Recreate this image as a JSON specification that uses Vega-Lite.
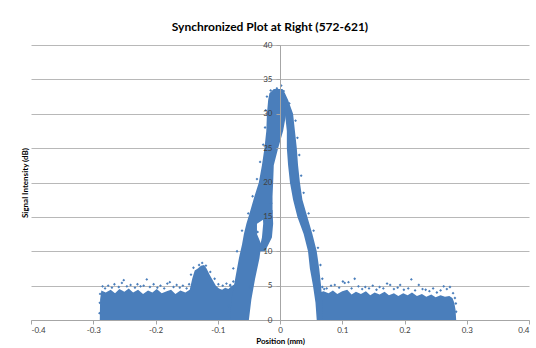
{
  "$schema": "https://vega.github.io/schema/vega-lite/v6.json",
  "autosize": "none",
  "width": 498,
  "height": 275,
  "padding": {"left": 31, "top": 45, "right": 7, "bottom": 28},
  "background": "white",
  "title": {"text": "Synchronized Plot at Right (572-621)", "font": "Lato", "fontSize": 12, "fontWeight": "bold", "color": "#000000", "anchor": "middle", "offset": 7, "dx": -10},
  "config": {
    "view": {"stroke": null},
    "axisX": {"grid": false, "domainColor": "#a6a6a6", "tickColor": "#a6a6a6", "tickSize": 4, "labelFont": "Lato", "labelFontSize": 8, "labelColor": "#404040", "labelPadding": 2, "titleFont": "Lato", "titleFontSize": 8, "titleFontWeight": "bold", "titleColor": "#000000", "titlePadding": 3},
    "axisY": {"gridColor": "#b8b8b8", "domainColor": "#a6a6a6", "tickColor": "#a6a6a6", "labelFont": "Lato", "labelFontSize": 8, "labelColor": "#404040", "titleFont": "Lato", "titleFontSize": 8, "titleFontWeight": "bold", "titleColor": "#000000"}
  },
  "resolve": {"axis": {"y": "independent"}},
  "datasets": {
    "noise": [
      {"grp": "L", "x": -0.2895, "y": 0},
      {"grp": "L", "x": -0.2890, "y": 3.0},
      {"grp": "L", "x": -0.2870, "y": 4.3},
      {"grp": "L", "x": -0.2800, "y": 4.0},
      {"grp": "L", "x": -0.2720, "y": 4.4},
      {"grp": "L", "x": -0.2650, "y": 3.9},
      {"grp": "L", "x": -0.2580, "y": 4.5},
      {"grp": "L", "x": -0.2500, "y": 4.1},
      {"grp": "L", "x": -0.2430, "y": 4.6},
      {"grp": "L", "x": -0.2360, "y": 4.0},
      {"grp": "L", "x": -0.2280, "y": 4.4},
      {"grp": "L", "x": -0.2200, "y": 3.8},
      {"grp": "L", "x": -0.2120, "y": 4.3},
      {"grp": "L", "x": -0.2050, "y": 4.0},
      {"grp": "L", "x": -0.1980, "y": 4.5},
      {"grp": "L", "x": -0.1900, "y": 3.9},
      {"grp": "L", "x": -0.1820, "y": 4.2},
      {"grp": "L", "x": -0.1750, "y": 4.4},
      {"grp": "L", "x": -0.1680, "y": 3.8},
      {"grp": "L", "x": -0.1600, "y": 4.3},
      {"grp": "L", "x": -0.1520, "y": 4.0},
      {"grp": "L", "x": -0.1450, "y": 4.4},
      {"grp": "L", "x": -0.1410, "y": 6.0},
      {"grp": "L", "x": -0.1370, "y": 7.2},
      {"grp": "L", "x": -0.1320, "y": 7.5},
      {"grp": "L", "x": -0.1270, "y": 7.9},
      {"grp": "L", "x": -0.1220, "y": 8.0},
      {"grp": "L", "x": -0.1180, "y": 7.5},
      {"grp": "L", "x": -0.1130, "y": 6.6},
      {"grp": "L", "x": -0.1080, "y": 5.8},
      {"grp": "L", "x": -0.1030, "y": 5.0},
      {"grp": "L", "x": -0.0980, "y": 4.6},
      {"grp": "L", "x": -0.0930, "y": 4.4},
      {"grp": "L", "x": -0.0880, "y": 4.7},
      {"grp": "L", "x": -0.0830, "y": 4.5},
      {"grp": "L", "x": -0.0780, "y": 4.9},
      {"grp": "L", "x": -0.0730, "y": 5.2},
      {"grp": "L", "x": -0.0650, "y": 4.0},
      {"grp": "L", "x": -0.0600, "y": 0},
      {"grp": "R", "x": 0.0600, "y": 0},
      {"grp": "R", "x": 0.0630, "y": 4.0},
      {"grp": "R", "x": 0.0700, "y": 4.2},
      {"grp": "R", "x": 0.0780, "y": 3.9},
      {"grp": "R", "x": 0.0850, "y": 4.3},
      {"grp": "R", "x": 0.0920, "y": 3.8},
      {"grp": "R", "x": 0.1000, "y": 4.2},
      {"grp": "R", "x": 0.1080, "y": 4.4},
      {"grp": "R", "x": 0.1150, "y": 3.7},
      {"grp": "R", "x": 0.1220, "y": 4.1},
      {"grp": "R", "x": 0.1300, "y": 3.8},
      {"grp": "R", "x": 0.1380, "y": 4.2},
      {"grp": "R", "x": 0.1450, "y": 3.6},
      {"grp": "R", "x": 0.1520, "y": 4.0},
      {"grp": "R", "x": 0.1600, "y": 3.7},
      {"grp": "R", "x": 0.1680, "y": 4.1},
      {"grp": "R", "x": 0.1750, "y": 3.6},
      {"grp": "R", "x": 0.1830, "y": 3.9},
      {"grp": "R", "x": 0.1900, "y": 3.5},
      {"grp": "R", "x": 0.1980, "y": 3.9},
      {"grp": "R", "x": 0.2050, "y": 3.6},
      {"grp": "R", "x": 0.2120, "y": 4.0},
      {"grp": "R", "x": 0.2200, "y": 3.5},
      {"grp": "R", "x": 0.2280, "y": 3.8},
      {"grp": "R", "x": 0.2350, "y": 3.4},
      {"grp": "R", "x": 0.2430, "y": 3.7},
      {"grp": "R", "x": 0.2500, "y": 3.3},
      {"grp": "R", "x": 0.2580, "y": 3.6},
      {"grp": "R", "x": 0.2650, "y": 3.4},
      {"grp": "R", "x": 0.2720, "y": 3.5},
      {"grp": "R", "x": 0.2770, "y": 3.2},
      {"grp": "R", "x": 0.2800, "y": 2.5},
      {"grp": "R", "x": 0.2820, "y": 1.5},
      {"grp": "R", "x": 0.2830, "y": 0}
    ],
    "bands": [
      {"band": "LM", "y": 0, "xl": -0.080, "xr": -0.050},
      {"band": "LM", "y": 3, "xl": -0.078, "xr": -0.046},
      {"band": "LM", "y": 6, "xl": -0.072, "xr": -0.040},
      {"band": "LM", "y": 9, "xl": -0.066, "xr": -0.033},
      {"band": "LM", "y": 11, "xl": -0.061, "xr": -0.030},
      {"band": "LM", "y": 12.5, "xl": -0.058, "xr": -0.037},
      {"band": "LM", "y": 14, "xl": -0.054, "xr": -0.037},
      {"band": "LM", "y": 15.5, "xl": -0.049, "xr": -0.012},
      {"band": "LM", "y": 18, "xl": -0.041, "xr": -0.012},
      {"band": "LM", "y": 20, "xl": -0.034, "xr": -0.011},
      {"band": "LM", "y": 22.5, "xl": -0.029, "xr": -0.010},
      {"band": "LM", "y": 25, "xl": -0.025, "xr": -0.003},
      {"band": "LM", "y": 27.5, "xl": -0.022, "xr": 0.005},
      {"band": "LM", "y": 30, "xl": -0.021, "xr": 0.010},
      {"band": "LM", "y": 32, "xl": -0.019, "xr": 0.013},
      {"band": "LM", "y": 33, "xl": -0.017, "xr": 0.008},
      {"band": "LM", "y": 33.6, "xl": -0.010, "xr": 0.004},
      {"band": "LI", "y": 10, "xl": -0.034, "xr": -0.024},
      {"band": "LI", "y": 12, "xl": -0.029, "xr": -0.013},
      {"band": "LI", "y": 14, "xl": -0.027, "xr": -0.011},
      {"band": "LI", "y": 16, "xl": -0.028, "xr": -0.012},
      {"band": "RB", "y": 0, "xl": 0.059, "xr": 0.069},
      {"band": "RB", "y": 2.5, "xl": 0.057, "xr": 0.068},
      {"band": "RB", "y": 5, "xl": 0.053, "xr": 0.066},
      {"band": "RB", "y": 7.5, "xl": 0.048, "xr": 0.063},
      {"band": "RB", "y": 10, "xl": 0.045, "xr": 0.059},
      {"band": "RB", "y": 12.5, "xl": 0.038, "xr": 0.052},
      {"band": "RB", "y": 15, "xl": 0.028, "xr": 0.044},
      {"band": "RB", "y": 17.5, "xl": 0.021, "xr": 0.036},
      {"band": "RB", "y": 20, "xl": 0.016, "xr": 0.032},
      {"band": "RB", "y": 22.5, "xl": 0.013, "xr": 0.029},
      {"band": "RB", "y": 25, "xl": 0.011, "xr": 0.027},
      {"band": "RB", "y": 27.5, "xl": 0.011, "xr": 0.024},
      {"band": "RB", "y": 30, "xl": 0.008, "xr": 0.021},
      {"band": "RB", "y": 32, "xl": 0.005, "xr": 0.013}
    ],
    "pts": [
      {"x": -0.285, "y": 4.9}, {"x": -0.281, "y": 4.6}, {"x": -0.276, "y": 5.0}, {"x": -0.270, "y": 4.7},
      {"x": -0.266, "y": 5.2}, {"x": -0.259, "y": 4.8}, {"x": -0.254, "y": 5.4}, {"x": -0.251, "y": 5.8},
      {"x": -0.246, "y": 4.9}, {"x": -0.240, "y": 5.1}, {"x": -0.233, "y": 4.7}, {"x": -0.229, "y": 5.2},
      {"x": -0.224, "y": 4.9}, {"x": -0.219, "y": 5.0}, {"x": -0.214, "y": 5.9}, {"x": -0.209, "y": 4.8},
      {"x": -0.203, "y": 5.2}, {"x": -0.197, "y": 4.7}, {"x": -0.192, "y": 5.0}, {"x": -0.186, "y": 4.6},
      {"x": -0.181, "y": 5.3}, {"x": -0.177, "y": 5.5}, {"x": -0.171, "y": 4.8}, {"x": -0.166, "y": 5.1},
      {"x": -0.161, "y": 4.7}, {"x": -0.156, "y": 5.0}, {"x": -0.150, "y": 4.6}, {"x": -0.146, "y": 5.2},
      {"x": -0.143, "y": 6.6}, {"x": -0.139, "y": 7.6}, {"x": -0.130, "y": 8.0}, {"x": -0.125, "y": 8.3},
      {"x": -0.119, "y": 7.9}, {"x": -0.112, "y": 7.0}, {"x": -0.105, "y": 6.0}, {"x": -0.099, "y": 5.2},
      {"x": -0.092, "y": 5.0}, {"x": -0.086, "y": 5.3}, {"x": -0.080, "y": 5.1}, {"x": -0.075, "y": 5.6},
      {"x": 0.068, "y": 4.8}, {"x": 0.075, "y": 4.6}, {"x": 0.082, "y": 5.0}, {"x": 0.088, "y": 5.1},
      {"x": 0.095, "y": 4.7}, {"x": 0.101, "y": 5.6}, {"x": 0.104, "y": 5.4}, {"x": 0.110, "y": 5.5},
      {"x": 0.115, "y": 4.6}, {"x": 0.120, "y": 6.0}, {"x": 0.126, "y": 4.9}, {"x": 0.132, "y": 4.5},
      {"x": 0.137, "y": 4.8}, {"x": 0.143, "y": 4.6}, {"x": 0.149, "y": 5.0}, {"x": 0.155, "y": 4.4},
      {"x": 0.160, "y": 4.8}, {"x": 0.166, "y": 4.6}, {"x": 0.172, "y": 5.3}, {"x": 0.177, "y": 5.1},
      {"x": 0.183, "y": 4.5}, {"x": 0.189, "y": 4.7}, {"x": 0.193, "y": 5.1}, {"x": 0.199, "y": 4.4},
      {"x": 0.206, "y": 4.6}, {"x": 0.211, "y": 5.9}, {"x": 0.217, "y": 4.3}, {"x": 0.223, "y": 5.1},
      {"x": 0.229, "y": 4.5}, {"x": 0.234, "y": 4.4}, {"x": 0.240, "y": 4.2}, {"x": 0.246, "y": 4.6},
      {"x": 0.252, "y": 4.0}, {"x": 0.258, "y": 4.3}, {"x": 0.263, "y": 4.9}, {"x": 0.268, "y": 4.5},
      {"x": 0.273, "y": 4.8}, {"x": 0.278, "y": 3.9}, {"x": 0.281, "y": 3.2},
      {"x": -0.290, "y": 1.0}, {"x": -0.2895, "y": 2.5}, {"x": -0.289, "y": 3.8},
      {"x": 0.283, "y": 1.2}, {"x": 0.2825, "y": 2.4},
      {"x": -0.082, "y": 2.0}, {"x": -0.080, "y": 5.0}, {"x": -0.075, "y": 7.5}, {"x": -0.069, "y": 10.0},
      {"x": -0.061, "y": 13.0}, {"x": -0.051, "y": 15.5}, {"x": -0.044, "y": 18.0}, {"x": -0.037, "y": 20.5},
      {"x": -0.032, "y": 23.0}, {"x": -0.027, "y": 25.5}, {"x": -0.024, "y": 28.0}, {"x": -0.023, "y": 30.5},
      {"x": -0.021, "y": 32.5}, {"x": -0.015, "y": 33.4}, {"x": -0.005, "y": 33.7}, {"x": 0.002, "y": 34.1},
      {"x": 0.006, "y": 33.3}, {"x": 0.015, "y": 31.5}, {"x": 0.025, "y": 29.0}, {"x": 0.028, "y": 26.5},
      {"x": 0.031, "y": 24.0}, {"x": 0.034, "y": 21.0}, {"x": 0.038, "y": 18.5}, {"x": 0.046, "y": 15.5},
      {"x": 0.054, "y": 13.0}, {"x": 0.061, "y": 10.5}, {"x": 0.065, "y": 8.0}, {"x": 0.068, "y": 6.0},
      {"x": 0.071, "y": 4.5}, {"x": -0.036, "y": 12.8}, {"x": 0.018, "y": 20.0}, {"x": -0.014, "y": 17.0},
      {"x": -0.030, "y": 11.0}, {"x": 0.050, "y": 9.0}, {"x": -0.048, "y": 4.8}
    ]
  },
  "layer": [
    {
      "data": {"name": "noise"},
      "mark": {"type": "area", "color": "#4a7ebb", "clip": true},
      "encoding": {
        "x": {"field": "x", "type": "quantitative", "scale": {"domain": [-0.4, 0.4], "nice": false, "zero": false},
              "axis": {"values": [-0.4, -0.3, -0.2, -0.1, 0, 0.1, 0.2, 0.3, 0.4], "labelExpr": "datum.value == 0 ? '0' : (datum.value < 0 ? '-' : '') + format(abs(datum.value), '.1f')"},
              "title": "Position (mm)"},
        "y": {"field": "y", "type": "quantitative", "scale": {"domain": [0, 40], "nice": false},
              "axis": {"orient": "left", "values": [0, 5, 10, 15, 20, 25, 30, 35, 40], "grid": true, "labels": false, "ticks": false, "domain": false, "zindex": 0, "titleX": -6, "titleY": 137.5, "titleAngle": -90, "titleAlign": "center", "titleBaseline": "middle"},
              "title": "Signal Intensity (dB)"},
        "y2": {"datum": 0},
        "detail": {"field": "grp", "type": "nominal"}
      }
    },
    {
      "data": {"name": "bands"},
      "mark": {"type": "area", "orient": "horizontal", "color": "#4a7ebb"},
      "encoding": {
        "y": {"field": "y", "type": "quantitative", "axis": null},
        "x": {"field": "xl", "type": "quantitative", "title": "Position (mm)",
              "axis": {"values": [-0.4, -0.3, -0.2, -0.1, 0, 0.1, 0.2, 0.3, 0.4], "labelExpr": "datum.value == 0 ? '0' : (datum.value < 0 ? '-' : '') + format(abs(datum.value), '.1f')"}},
        "x2": {"field": "xr"},
        "detail": {"field": "band", "type": "nominal"}
      }
    },
    {
      "data": {"name": "pts"},
      "mark": {"type": "point", "filled": true, "shape": "diamond", "size": 8, "color": "#4a7ebb", "opacity": 1},
      "encoding": {
        "x": {"field": "x", "type": "quantitative", "title": "Position (mm)",
              "axis": {"values": [-0.4, -0.3, -0.2, -0.1, 0, 0.1, 0.2, 0.3, 0.4], "labelExpr": "datum.value == 0 ? '0' : (datum.value < 0 ? '-' : '') + format(abs(datum.value), '.1f')"}},
        "y": {"field": "y", "type": "quantitative", "title": null,
              "axis": {"orient": "right", "values": [0, 5, 10, 15, 20, 25, 30, 35, 40], "grid": false, "offset": -249, "zindex": 1, "tickSize": -4, "labelPadding": -4, "labelAlign": "right"}}
      }
    }
  ]
}
